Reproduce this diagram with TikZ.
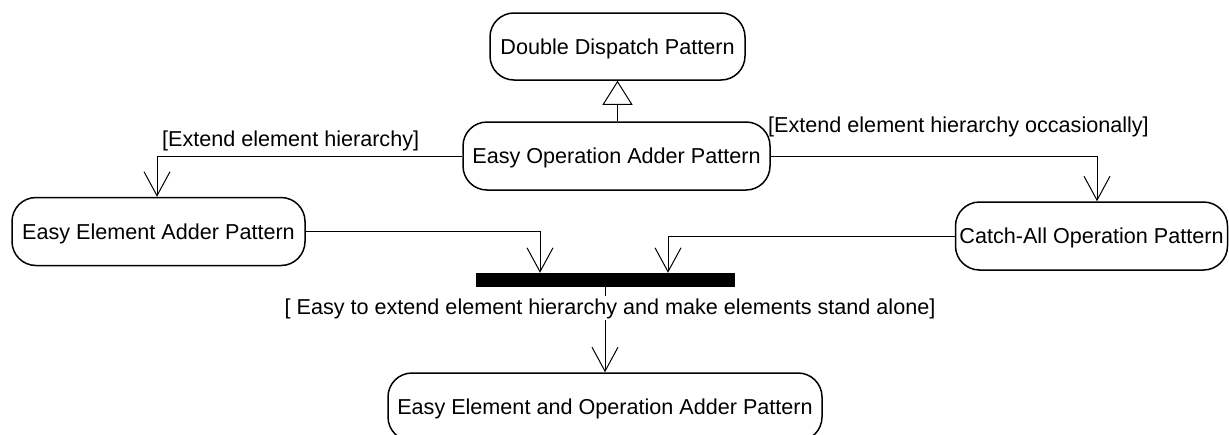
\documentclass[tikz,border=0pt]{standalone}
\usepackage{fontspec}
\setmainfont{Liberation Sans}
\usetikzlibrary{arrows.meta}
\begin{document}
\begin{tikzpicture}[x=1pt,y=-1pt,
  every node/.style={font=\fontsize{21.6}{26}\selectfont},
  activity/.style={draw, line width=1.5pt, rounded corners=24pt, inner sep=0pt,
    text height=15pt, text depth=0pt, align=center},
  flow/.style={draw, line width=1pt, -{Straight Barb[length=24pt,width=26pt,line width=1pt]}},
  generalize/.style={draw, line width=1pt, -{Triangle[open,length=24pt,width=30pt,line width=1pt]}},
  guard/.style={inner sep=0pt, anchor=base west}]
\useasboundingbox (0,0) rectangle (1229,434);

% activity states
\node[activity, minimum width=255pt, minimum height=67pt] (dd)  at (617.5,46.5) {Double Dispatch Pattern};
\node[activity, minimum width=307pt, minimum height=68pt] (eo)  at (616.5,156)  {Easy Operation Adder Pattern};
\node[activity, minimum width=293pt, minimum height=68pt] (ee)  at (158.5,231.5) {Easy Element Adder Pattern};
\node[activity, minimum width=272pt, minimum height=68pt] (ca)  at (1091.5,236) {Catch-All Operation Pattern};
\node[activity, minimum width=434pt, minimum height=68pt] (bot) at (605,407)    {Easy Element and Operation Adder Pattern};

% synchronisation bar
\node[fill=black, inner sep=0pt, minimum width=259pt, minimum height=14pt] (bar) at (605.5,280) {};

% bend points
\coordinate (eeTop)  at (157,156);
\coordinate (caTop)  at (1097,156);
\coordinate (barL)   at (540,231.5);
\coordinate (barR)   at (668,236);

% generalization
\draw[generalize] (eo.north -| dd.south) -- (dd.south);

% transitions
\draw[flow] (eo.west) -- (eeTop) -- (ee.north -| eeTop);
\draw[flow] (eo.east) -- (caTop) -- (ca.north -| caTop);
\draw[flow] (ee.east) -- (barL) -- (bar.north -| barL);
\draw[flow] (ca.west) -- (barR) -- (bar.north -| barR);
\draw[flow] (bar.south -| bot.north) -- (bot.north);

% guards
\node[guard] (g1) at (162,146) {[Extend element hierarchy]};
\node[guard] (g2) at (768,132) {[Extend element hierarchy occasionally]};
\node[fill=white, inner sep=2pt, anchor=base] (g3) at (610,314) {[ Easy to extend element hierarchy and make elements stand alone]};
\end{tikzpicture}
\end{document}
